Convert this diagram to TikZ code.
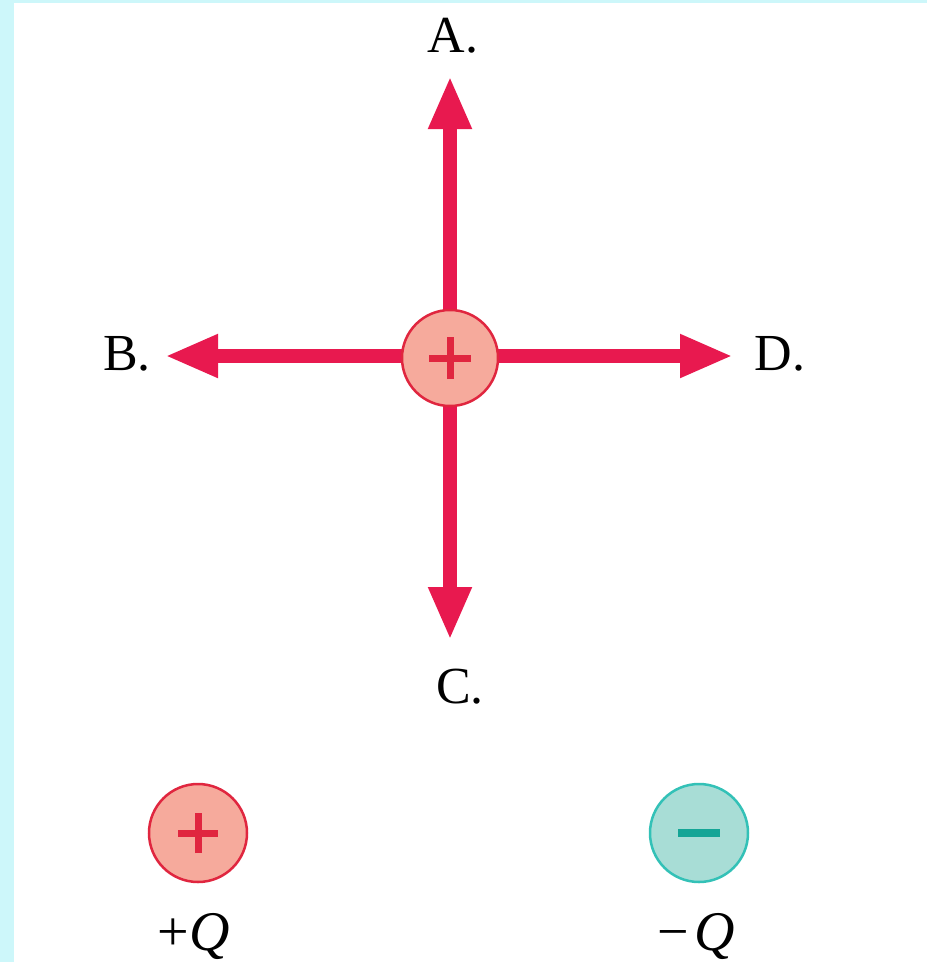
\documentclass[tikz,border=0pt]{standalone}
\usepackage{fontspec}
\setmainfont{Liberation Serif}
\usetikzlibrary{arrows.meta, positioning}
\definecolor{qred}{HTML}{E8194F}
\definecolor{qrim}{HTML}{E0263F}
\definecolor{qfill}{HTML}{F6AA9C}
\definecolor{nfill}{HTML}{A8DDD6}
\definecolor{nrim}{HTML}{33C1B7}
\definecolor{nsign}{HTML}{14A596}
\definecolor{bgcyan}{HTML}{CDF7FA}
\tikzset{
  pcharge/.style={circle, draw=qrim, fill=qfill, line width=2.5pt,
                  minimum size=96pt, inner sep=0pt},
  ncharge/.style={circle, draw=nrim, fill=nfill, line width=2.5pt,
                  minimum size=98pt, inner sep=0pt},
  field/.style={qred, line width=14pt, -{Triangle[length=53pt, width=40pt]}},
  psign/.style={qrim, line width=7pt},
  nline/.style={nsign, line width=8pt},
  lbl/.style={font=\fontsize{52}{56}\selectfont, inner sep=0pt, anchor=base},
  qlbl/.style={font=\fontsize{56}{60}\selectfont, inner sep=0pt, anchor=base},
}
\begin{document}
\begin{tikzpicture}[x=1pt, y=-1pt]
    \useasboundingbox (0,0) rectangle (927,962);
    \fill[bgcyan] (0,0) rectangle (927,962);
    \fill[white] (14,3) rectangle (927,962);

    % field arrows
    \coordinate (tA) at (450,76);
    \coordinate (tB) at (165,356);
    \coordinate (tC) at (450,640);
    \coordinate (tD) at (733,356);
    \draw[field] (450,357) -- (tA);
    \draw[field] (450,357) -- (tC);
    \draw[field] (450,356) -- (tB);
    \draw[field] (450,356) -- (tD);

    \node[pcharge] (q) at (450,358) {};
    \draw[psign] ([xshift=-21pt]q.center) -- ([xshift=21pt]q.center);
    \draw[psign] ([yshift=-21pt]q.center) -- ([yshift=21pt]q.center);

    \node[lbl] (lA) at (453,52) {A.};
    \node[lbl] (lB) at (127,370) {B.};
    \node[lbl] (lC) at (460,703) {C.};
    \node[lbl] (lD) at (780,370) {D.};

    % legend
    \node[pcharge, minimum size=98pt] (pq) at (198,833) {};
    \draw[psign] ([xshift=-20pt]pq.center) -- ([xshift=20pt]pq.center);
    \draw[psign] ([yshift=-20pt]pq.center) -- ([yshift=20pt]pq.center);
    \node[ncharge] (nq) at (699,833) {};
    \draw[nline] ([xshift=-21pt]nq.center) -- ([xshift=21pt]nq.center);

    \node[qlbl] (lp) at (194,950) {+\textit{Q}};
    \node[qlbl] (ln) at (696,950) {−\kern5pt\textit{Q}};
\end{tikzpicture}
\end{document}
